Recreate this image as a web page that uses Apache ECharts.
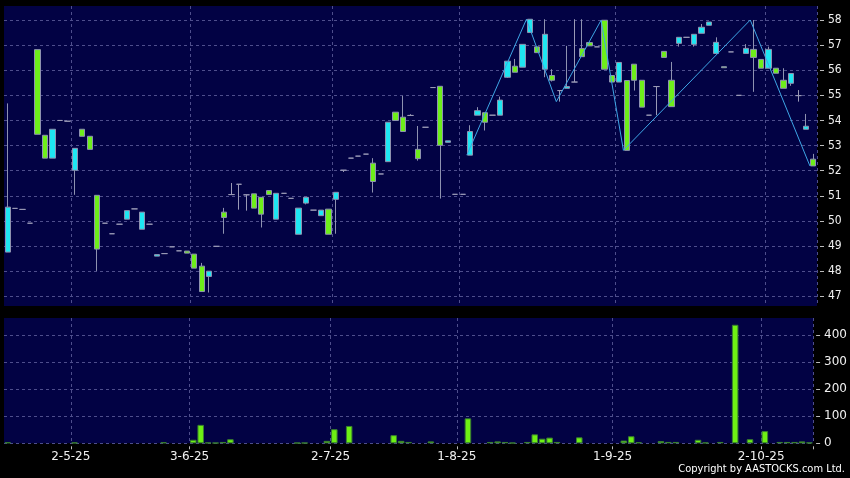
<!DOCTYPE html>
<html><head><meta charset="utf-8">
<script src="https://cdn.jsdelivr.net/npm/echarts@6/dist/echarts.min.js"></script>
<style>html,body{margin:0;padding:0;background:#000;}#c{width:850px;height:478px;}</style>
</head><body><div id="c"></div>
<script>
// ---- data ----
const tickIndex = [9, 25, 44, 61, 82, 102];
const tickLabels = ['2-5-25', '3-6-25', '2-7-25', '1-8-25', '1-9-25', '2-10-25'];
const priceTicks = [47, 48, 49, 50, 51, 52, 53, 54, 55, 56, 57, 58];
const volumeTicks = [0, 100, 200, 300, 400];

const open = [48.76,50.50,50.46,49.91,56.82,53.41,52.50,54.00,53.97,52.02,53.65,53.37,51.02,49.91,49.49,49.87,50.07,50.48,49.67,49.87,
48.60,48.70,48.97,48.81,48.80,48.68,48.20,47.79,48.99,50.35,51.05,51.46,51.04,51.08,50.94,51.21,50.07,51.10,50.90,49.47,
50.71,50.43,50.21,50.47,50.86,52.02,52.50,52.58,52.66,52.30,51.87,52.36,54.33,54.13,54.20,52.85,53.73,55.31,55.36,53.13,
51.06,51.06,52.62,54.21,54.31,54.21,54.21,55.72,56.16,56.12,57.50,56.93,56.04,55.79,55.19,55.28,55.53,56.86,57.10,56.93,
57.99,55.79,55.53,55.59,56.24,55.60,54.21,55.35,56.75,55.60,57.07,57.31,57.03,57.47,57.79,56.67,56.14,56.73,55.00,56.67,
56.83,56.43,56.08,56.08,55.60,55.48,54.99,53.65,52.46];
const close = [50.55,50.50,50.46,49.91,53.45,52.50,53.65,54.00,53.97,52.89,53.37,52.85,48.88,49.91,49.49,49.87,50.41,50.48,50.35,49.87,
48.66,48.70,48.97,48.81,48.72,48.12,47.19,48.00,48.99,50.14,51.05,51.46,51.04,50.51,50.27,51.05,51.10,51.10,50.90,50.51,
50.94,50.43,50.43,49.47,51.14,52.02,52.50,52.58,52.66,51.57,51.87,53.93,54.00,53.56,54.20,52.48,53.73,55.31,53.01,53.19,
51.06,51.06,53.56,54.39,53.93,54.21,54.81,56.36,55.92,57.03,58.03,56.70,57.43,55.60,55.19,55.35,55.53,56.54,56.97,56.93,
56.04,55.53,56.31,52.81,55.60,54.53,54.21,55.35,56.51,54.55,57.31,57.31,57.43,57.71,57.92,57.11,56.10,56.73,55.00,56.87,
56.51,56.08,56.83,55.88,55.28,55.87,54.99,53.77,52.19];
const low = [48.76,50.50,50.46,49.91,53.45,52.50,52.50,54.00,53.97,51.04,53.37,52.85,48.01,49.91,49.49,49.87,50.07,50.48,49.67,49.87,
48.60,48.70,48.97,48.81,48.72,48.12,47.19,47.15,48.99,49.49,51.05,50.45,50.41,50.51,49.74,51.05,50.07,51.10,50.90,49.47,
50.66,50.43,50.21,49.47,49.49,51.95,52.50,52.58,52.66,51.13,51.87,52.36,54.00,53.56,54.20,52.40,53.73,55.31,50.89,53.13,
51.06,51.06,52.62,54.21,53.60,54.21,54.21,55.69,55.92,56.12,57.50,56.70,55.72,55.55,54.75,55.28,55.53,56.54,56.97,56.93,
56.04,55.53,55.53,52.81,55.19,54.53,54.21,54.21,56.51,54.55,56.94,57.31,56.94,57.47,57.79,56.67,56.10,56.73,55.00,56.67,
55.14,56.08,56.08,55.88,55.28,55.38,54.75,53.65,52.19];
const high = [54.68,50.50,50.46,49.91,56.82,53.41,53.65,54.00,53.97,52.89,53.65,53.37,51.02,49.91,49.49,49.87,50.41,50.48,50.35,49.87,
48.66,48.70,48.97,48.81,48.80,48.68,48.33,48.00,48.99,50.52,51.51,51.46,51.04,51.08,50.94,51.21,51.10,51.10,50.90,50.51,
50.94,50.43,50.43,50.47,51.14,52.02,52.50,52.58,52.66,52.50,51.87,53.93,54.33,54.98,54.25,53.78,53.73,55.31,55.36,53.19,
51.06,51.06,53.81,54.53,54.31,54.21,54.95,56.36,56.45,57.03,58.03,56.93,58.03,56.04,55.19,56.97,58.03,58.03,57.10,56.93,
57.99,55.79,56.31,55.59,56.24,55.60,54.21,55.35,56.75,56.33,57.31,57.31,57.43,57.84,57.92,57.31,56.14,56.73,55.00,57.04,
58.00,56.43,56.94,56.08,56.08,55.87,55.21,54.26,52.67];
const volume = [4,0,0,0,0,0,0,0,0,3,0,0,0,0,0,0,0,0,0,0,
0,4,0,0,0,13,68,3,2,5,15,0,0,0,0,0,0,0,0,2,
2,0,0,9,52,0,64,0,0,0,0,0,30,9,5,0,0,7,0,0,
0,0,92,0,0,5,7,5,2,0,5,33,17,21,5,0,0,22,0,0,
0,0,0,10,26,4,0,0,8,5,5,0,0,13,3,0,5,0,437,0,
15,0,45,0,5,5,5,7,3];
// zigzag pivots: candle index and price (drawn at the candle's left edge, as in the picture)
const zigIndex = [62, 70, 74, 80, 83, 100, 108];
const zigValue = [52.62, 58.03, 54.75, 57.99, 52.81, 58.00, 52.19];

// ---- build ----
const categories = open.map((_, i) => String(i));
const candleData = open.map((o, i) => [o, close[i], low[i], high[i]]);
const volData = volume.map(v => v === 0 ? '-' : v);
const zigEdge = 0.45; // pivot drawn at left side of its candle slot
const zigData = zigIndex.map((idx, k) => [idx - zigEdge, zigValue[k]]);
const isTick = (idx) => tickIndex.indexOf(idx) >= 0;

const gridLine = { show: true, lineStyle: { color: '#4e4e8c', type: [3, 3], width: 1 } };
const labelFont = 'DejaVu Sans';

const chart = echarts.init(document.getElementById('c'), null, { renderer: 'canvas' });
chart.setOption({
  animation: false,
  backgroundColor: '#000000',
  grid: [
    { left: 4, right: 33, top: 6, height: 300, show: true, backgroundColor: '#020244', borderWidth: 0 },
    { left: 4, right: 33, top: 318, height: 125.3, show: true, backgroundColor: '#020244', borderWidth: 0 }
  ],
  xAxis: [
    { type: 'category', gridIndex: 0, data: categories, boundaryGap: true,
      axisLine: { show: false, onZero: false }, axisTick: { show: false }, axisLabel: { show: false },
      splitLine: Object.assign({ interval: isTick }, gridLine) },
    { type: 'category', gridIndex: 1, data: categories, boundaryGap: true, offset: 3,
      axisLine: { show: false, onZero: false },
      axisTick: { show: true, interval: isTick, length: 3, lineStyle: { color: '#bbbbbb' } },
      axisLabel: { show: true, interval: isTick, color: '#f0f0f0', fontSize: 12, fontFamily: labelFont,
        margin: 5, padding: [0, 7.46, 0, 0],
        formatter: (v, idx) => { const k = tickIndex.indexOf(idx); return k >= 0 ? tickLabels[k] : ''; } },
      splitLine: Object.assign({ interval: isTick }, gridLine) },
    { type: 'value', gridIndex: 0, min: -0.5, max: categories.length - 0.5, show: false,
      axisLine: { show: false, onZero: false }, axisTick: { show: false }, axisLabel: { show: false },
      splitLine: { show: false } }
  ],
  yAxis: [
    { type: 'value', gridIndex: 0, position: 'right', min: 46.614, max: 58.557, offset: 3,
      axisLine: { show: false, onZero: false },
      axisTick: { show: true, length: 4, customValues: priceTicks, lineStyle: { color: '#bbbbbb' } },
      axisLabel: { show: true, customValues: priceTicks, color: '#f0f0f0', fontSize: 12,
        fontFamily: "'DejaVu Sans Condensed', 'DejaVu Sans'", margin: 8 },
      splitLine: gridLine },
    { type: 'value', gridIndex: 1, position: 'right', min: 0, max: 462, offset: 3,
      axisLine: { show: false, onZero: false },
      axisTick: { show: true, length: 4, customValues: volumeTicks, lineStyle: { color: '#bbbbbb' } },
      axisLabel: { show: true, customValues: volumeTicks, color: '#f0f0f0', fontSize: 12,
        fontFamily: labelFont, margin: 8 },
      splitLine: gridLine }
  ],
  series: [
    { type: 'candlestick', xAxisIndex: 0, yAxisIndex: 0, data: candleData, barWidth: 5.8,
      itemStyle: { color: '#1ee6f2', color0: '#6eee1a', borderColor: '#8e92b0', borderColor0: '#8e92b0',
        borderColorDoji: '#9a9ab6', borderWidth: 1 } },
    { type: 'line', xAxisIndex: 2, yAxisIndex: 0, data: zigData, symbol: 'none',
      lineStyle: { color: '#3ea6e6', width: 1 }, z: 5 },
    { type: 'bar', xAxisIndex: 1, yAxisIndex: 1, data: volData, barWidth: '88%',
      itemStyle: { color: '#6ef014', borderColor: '#3a8030', borderWidth: 1 } }
  ],
  graphic: [
    { type: 'text', right: 5, top: 464,
      style: { text: 'Copyright by AASTOCKS.com Ltd.', fill: '#ffffff',
        font: "11px 'DejaVu Sans Condensed', 'DejaVu Sans'" } }
  ]
});
</script></body></html>
